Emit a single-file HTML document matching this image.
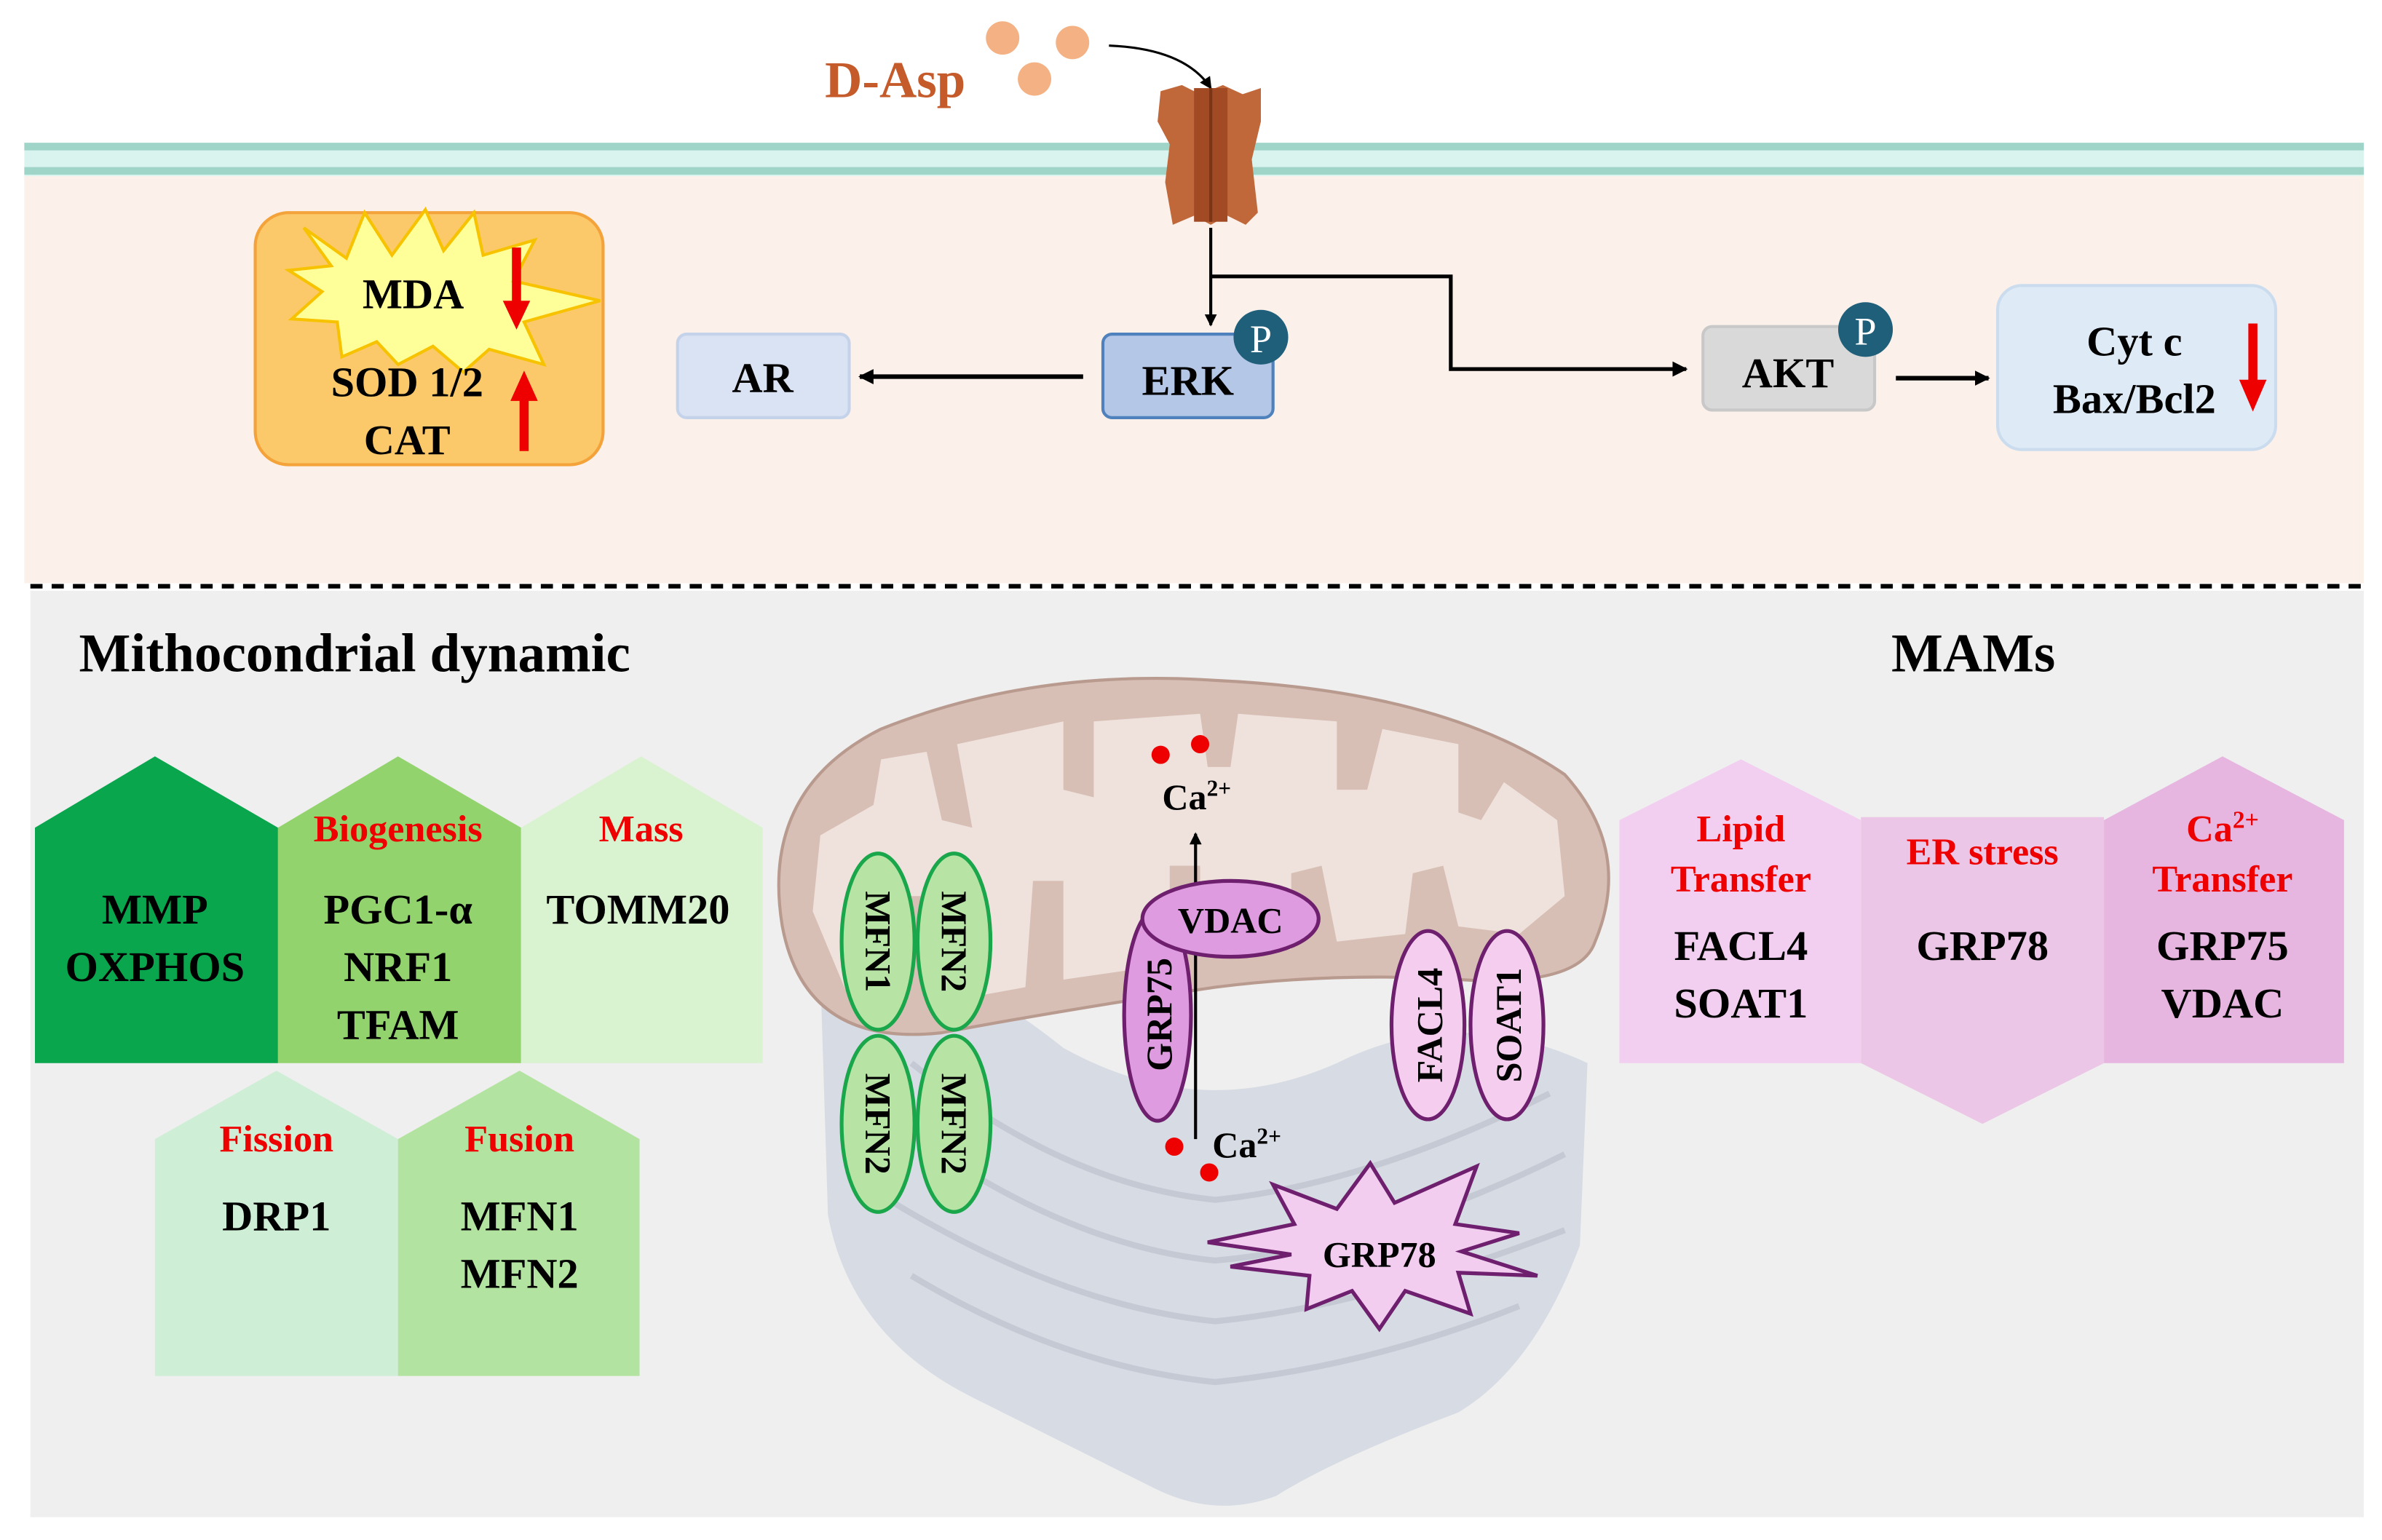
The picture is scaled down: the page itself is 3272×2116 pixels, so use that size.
<!DOCTYPE html>
<html><head><meta charset="utf-8"><style>
html,body{margin:0;padding:0;background:#fff;}
svg{display:block;}
text{font-family:"Liberation Serif",serif;font-weight:bold;}
</style></head><body>
<svg width="3272" height="2116" viewBox="0 0 1568 1014" xmlns="http://www.w3.org/2000/svg">
<defs>
<marker id="ah" markerWidth="8" markerHeight="8" refX="7" refY="4" orient="auto" markerUnits="userSpaceOnUse"><path d="M0,0 L8,4 L0,8 Z" fill="#000"/></marker>
<marker id="ahs" markerWidth="10" markerHeight="10" refX="9" refY="5" orient="auto" markerUnits="userSpaceOnUse"><path d="M0,0 L10,5 L0,10 Z" fill="#000"/></marker>
</defs>
<rect width="1568" height="1014" fill="#fff"/>
<!-- membrane -->
<rect x="16" y="94" width="1540" height="22" fill="#d9f3ee"/>
<rect x="16" y="94" width="1540" height="5" fill="#9fd4c8"/>
<rect x="16" y="110" width="1540" height="5" fill="#9fd4c8"/>
<rect x="16" y="116" width="1540" height="268" fill="#fbf1ea"/>
<line x1="20" y1="386" x2="1556" y2="386" stroke="#000" stroke-width="3" stroke-dasharray="8,6"/>
<rect x="20" y="389" width="1536" height="610" fill="#efefef"/>

<!-- D-Asp -->
<text x="543" y="64" font-size="34" fill="#c55a2a">D-Asp</text>
<circle cx="660" cy="25" r="11" fill="#f4b183"/>
<circle cx="706" cy="28" r="11" fill="#f4b183"/>
<circle cx="681" cy="52" r="11" fill="#f4b183"/>
<path d="M730,30 Q780,32 797,58" fill="none" stroke="#000" stroke-width="1.5" marker-end="url(#ah)"/>
<!-- receptor -->
<path d="M764,60 L778,56 L790,62 L805,56 L818,62 L830,58 L830,80 L824,105 L828,140 L820,148 L808,142 L797,148 L786,142 L772,148 L767,120 L770,95 L762,80 Z" fill="#c0683a"/>
<rect x="786" y="58" width="22" height="88" fill="#a14a24"/>
<line x1="797" y1="58" x2="797" y2="146" stroke="#7a3517" stroke-width="2"/>

<!-- connectors -->
<line x1="797" y1="150" x2="797" y2="214" stroke="#000" stroke-width="2" marker-end="url(#ah)"/>
<polyline points="797,182 955,182 955,243 1110,243" fill="none" stroke="#000" stroke-width="2.5" marker-end="url(#ahs)"/>
<line x1="713" y1="248" x2="566" y2="248" stroke="#000" stroke-width="3" marker-end="url(#ahs)"/>
<line x1="1248" y1="249" x2="1309" y2="249" stroke="#000" stroke-width="3" marker-end="url(#ahs)"/>

<!-- MDA box -->
<rect x="168" y="140" width="229" height="166" rx="22" fill="#fbc96a" stroke="#f4a23a" stroke-width="2"/>
<path d="M200,150 L228,170 L240,140 L258,168 L280,138 L292,165 L312,140 L318,168 L352,158 L338,185 L395,198 L345,212 L358,240 L322,230 L305,245 L285,228 L262,240 L248,225 L225,235 L222,212 L192,210 L212,192 L190,178 L218,175 Z" fill="#ffff99" stroke="#f7c200" stroke-width="2"/>
<text x="272" y="203" font-size="28" text-anchor="middle">MDA</text>
<text x="268" y="261" font-size="28" text-anchor="middle">SOD 1/2</text>
<text x="268" y="299" font-size="28" text-anchor="middle">CAT</text>
<line x1="340" y1="163" x2="340" y2="200" stroke="#e00" stroke-width="6"/>
<polygon points="331,198 349,198 340,217" fill="#e00"/>
<line x1="345" y1="297" x2="345" y2="262" stroke="#e00" stroke-width="6"/>
<polygon points="336,264 354,264 345,244" fill="#e00"/>

<!-- AR -->
<rect x="446" y="220" width="113" height="55" rx="6" fill="#dae3f3" stroke="#c5d3ea" stroke-width="2"/>
<text x="502" y="258" font-size="28" text-anchor="middle">AR</text>
<!-- ERK -->
<rect x="726" y="220" width="112" height="55" rx="6" fill="#b4c7e7" stroke="#4f81bd" stroke-width="2"/>
<text x="782" y="260" font-size="28" text-anchor="middle">ERK</text>
<circle cx="830" cy="222" r="18" fill="#1f5f7a"/>
<text x="830" y="232" font-size="26" fill="#fff" text-anchor="middle" style="font-weight:normal">P</text>
<!-- AKT -->
<rect x="1121" y="215" width="113" height="55" rx="6" fill="#d9d9d9" stroke="#c8c8c8" stroke-width="2"/>
<text x="1177" y="255" font-size="28" text-anchor="middle">AKT</text>
<circle cx="1228" cy="217" r="18" fill="#1f5f7a"/>
<text x="1228" y="227" font-size="26" fill="#fff" text-anchor="middle" style="font-weight:normal">P</text>
<!-- Cyt c -->
<rect x="1315" y="188" width="183" height="108" rx="16" fill="#deebf7" stroke="#cadcee" stroke-width="2"/>
<text x="1405" y="234" font-size="28" text-anchor="middle">Cyt c</text>
<text x="1405" y="272" font-size="28" text-anchor="middle">Bax/Bcl2</text>
<line x1="1483" y1="213" x2="1483" y2="252" stroke="#e00" stroke-width="6"/>
<polygon points="1474,250 1492,250 1483,271" fill="#e00"/>

<!-- titles -->
<text x="52" y="442" font-size="36">Mithocondrial dynamic</text>
<text x="1245" y="442" font-size="36">MAMs</text>

<!-- green arrows -->
<path d="M23,545 L102,498 L183,545 L183,700 L23,700 Z" fill="#0aa64e"/>
<path d="M183,545 L262,498 L343,545 L343,700 L183,700 Z" fill="#92d36e"/>
<path d="M343,545 L422,498 L502,545 L502,700 L343,700 Z" fill="#d9f2d0"/>
<path d="M102,750 L182,705 L262,750 L262,906 L102,906 Z" fill="#cfeed6"/>
<path d="M262,750 L342,705 L421,750 L421,906 L262,906 Z" fill="#b3e3a0"/>
<g font-size="28" text-anchor="middle">
<text x="102" y="608">MMP</text><text x="102" y="646">OXPHOS</text>
<text x="262" y="554" fill="#e00" font-size="25">Biogenesis</text>
<text x="262" y="608">PGC1-α</text><text x="262" y="646">NRF1</text><text x="262" y="684">TFAM</text>
<text x="422" y="554" fill="#e00" font-size="25">Mass</text>
<text x="420" y="608">TOMM20</text>
<text x="182" y="758" fill="#e00" font-size="25">Fission</text>
<text x="182" y="810">DRP1</text>
<text x="342" y="758" fill="#e00" font-size="25">Fusion</text>
<text x="342" y="810">MFN1</text><text x="342" y="848">MFN2</text>
</g>

<!-- MAMs -->
<path d="M1066,540 L1146,500 L1225,540 L1225,700 L1066,700 Z" fill="#f2cff0"/>
<path d="M1225,538 L1385,538 L1385,700 L1305,740 L1225,700 Z" fill="#ecc6e6"/>
<path d="M1385,540 L1463,498 L1543,540 L1543,700 L1385,700 Z" fill="#e6b5e0"/>
<g font-size="28" text-anchor="middle">
<text x="1146" y="554" fill="#e00" font-size="25">Lipid</text>
<text x="1146" y="587" fill="#e00" font-size="25">Transfer</text>
<text x="1146" y="632">FACL4</text><text x="1146" y="670">SOAT1</text>
<text x="1305" y="569" fill="#e00" font-size="25">ER stress</text>
<text x="1305" y="632">GRP78</text>
<text x="1463" y="554" fill="#e00" font-size="25">Ca<tspan dy="-9" font-size="16">2+</tspan></text>
<text x="1463" y="587" fill="#e00" font-size="25">Transfer</text>
<text x="1463" y="632">GRP75</text><text x="1463" y="670">VDAC</text>
</g>

<!-- ER -->
<path d="M540,640 Q600,610 700,690 Q790,740 880,700 Q960,660 1045,700 L1040,820 Q1010,900 960,930 Q880,960 840,985 Q800,1000 760,980 Q700,950 640,920 Q560,880 545,800 Z" fill="#d7dbe3"/>
<g fill="none" stroke="#c4c9d3" stroke-width="4">
<path d="M600,700 Q700,780 800,790 Q900,780 1020,720"/>
<path d="M590,740 Q700,820 800,830 Q910,820 1030,760"/>
<path d="M585,790 Q700,860 800,870 Q900,860 1030,810"/>
<path d="M600,840 Q700,900 800,910 Q900,900 1000,860"/>
</g>
<!-- mitochondrion -->
<path d="M515,610 Q500,520 580,480 Q680,440 800,448 Q950,455 1030,510 Q1075,560 1050,620 Q1040,650 960,645 Q880,640 800,650 Q700,665 620,680 Q530,690 515,610 Z" fill="#d8bfb5" stroke="#b89a8f" stroke-width="2"/>
<path d="M535,600 L540,550 L575,530 L580,500 L610,495 L620,540 L640,545 L630,490 L700,475 L700,520 L720,525 L720,475 L790,470 L795,505 L810,505 L815,470 L880,475 L880,520 L900,520 L910,480 L960,490 L960,535 L975,540 L990,515 L1025,540 L1030,590 L1000,615 L960,610 L950,570 L930,575 L925,615 L880,620 L870,570 L850,575 L850,625 L790,630 L790,570 L770,570 L770,635 L700,645 L700,580 L680,580 L675,650 L620,660 L615,590 L598,590 L595,660 L560,660 Z" fill="#efe2dc"/>
<!-- arrow -->
<line x1="787" y1="750" x2="787" y2="549" stroke="#000" stroke-width="2" marker-end="url(#ah)"/>
<circle cx="764" cy="497" r="6" fill="#e00"/><circle cx="790" cy="490" r="6" fill="#e00"/>
<circle cx="773" cy="755" r="6" fill="#e00"/><circle cx="796" cy="772" r="6" fill="#e00"/>
<text x="765" y="533" font-size="24">Ca<tspan dy="-9" font-size="15">2+</tspan></text>
<text x="798" y="762" font-size="24">Ca<tspan dy="-9" font-size="15">2+</tspan></text>
<!-- MFN -->
<g fill="#b7e4a5" stroke="#1aa64a" stroke-width="2.5">
<ellipse cx="578" cy="620" rx="24" ry="58"/><ellipse cx="628" cy="620" rx="24" ry="58"/>
<ellipse cx="578" cy="740" rx="24" ry="58"/><ellipse cx="628" cy="740" rx="24" ry="58"/>
</g>
<g font-size="24" text-anchor="middle">
<text transform="translate(570,620) rotate(90)">MFN1</text>
<text transform="translate(620,620) rotate(90)">MFN2</text>
<text transform="translate(570,740) rotate(90)">MFN2</text>
<text transform="translate(620,740) rotate(90)">MFN2</text>
</g>
<!-- GRP75, VDAC -->
<ellipse cx="762" cy="668" rx="22" ry="70" fill="#df9be0" stroke="#6e1f6e" stroke-width="2.5"/>
<text transform="translate(771,668) rotate(-90)" font-size="24" text-anchor="middle">GRP75</text>
<ellipse cx="810" cy="605" rx="58" ry="25" fill="#df9be0" stroke="#6e1f6e" stroke-width="2.5"/>
<text x="810" y="614" font-size="24" text-anchor="middle">VDAC</text>
<!-- FACL4 SOAT1 -->
<ellipse cx="940" cy="675" rx="24" ry="62" fill="#f4cdef" stroke="#6e1f6e" stroke-width="2.5"/>
<ellipse cx="992" cy="675" rx="24" ry="62" fill="#f4cdef" stroke="#6e1f6e" stroke-width="2.5"/>
<text transform="translate(949,675) rotate(-90)" font-size="24" text-anchor="middle">FACL4</text>
<text transform="translate(1001,675) rotate(-90)" font-size="24" text-anchor="middle">SOAT1</text>
<!-- GRP78 star -->
<path d="M795,818 L852,806 L838,780 L880,796 L902,766 L918,792 L972,768 L958,806 L1000,812 L962,824 L1012,840 L960,838 L968,865 L925,850 L908,875 L890,850 L860,862 L862,840 L810,834 L850,826 Z" fill="#f2cdf0" stroke="#6e1f6e" stroke-width="2.5"/>
<text x="908" y="834" font-size="24" text-anchor="middle">GRP78</text>
</svg>
</body></html>
